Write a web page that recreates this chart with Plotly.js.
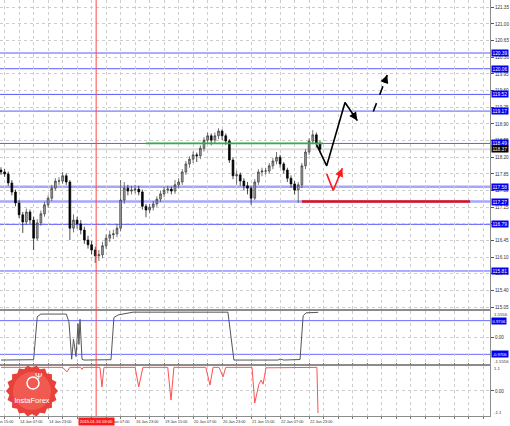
<!DOCTYPE html>
<html><head><meta charset="utf-8">
<script src="https://cdn.plot.ly/plotly-3.0.1.min.js"></script>
<style>html,body{margin:0;padding:0;background:#fff;}#chart{width:510px;height:426px;}</style>
</head><body><div id="chart"></div>
<script>
// ---- hourly bar index (2-hour bars), 0 = 13 Jan 21:00 ----
const barIndex = [0,2,4,6,8,10,12,14,16,18,20,22,24,26,28,30,32,34,36,38,40,42,44,46,48,50,52,54,56,58,60,62,64,66,68,70,72,74,76,78,80,82,84,86,88,90,92,94,96,98,100,102,104,106,108,110,112,114,116,118,120,122,124,126,128,130,132,134,136,138,140,142,144,146,148,150,152,154,156,158,160,162,164,166,168,170,172,174,176];
const openP = [117.93,117.89,117.85,117.66,117.47,117.24,116.99,116.84,117.05,116.88,
116.50,116.82,117.01,117.20,117.34,117.55,117.70,117.70,117.81,117.68,
116.71,116.88,116.80,116.67,116.46,116.36,116.25,116.13,116.15,116.34,
116.50,116.57,116.59,116.71,117.30,117.55,117.49,117.51,117.53,117.47,
117.17,117.09,117.15,117.22,117.32,117.43,117.51,117.53,117.49,117.62,
117.68,117.89,118.06,118.16,118.25,118.23,118.39,118.56,118.65,118.56,
118.65,118.75,118.65,118.54,118.14,117.81,117.83,117.70,117.60,117.55,
117.34,117.68,117.89,117.91,117.91,118.02,118.12,118.20,118.06,117.93,
117.76,117.64,117.51,117.62,118.02,118.31,118.54,118.67,118.48];
const highP = [117.99,117.95,117.90,117.72,117.52,117.30,117.05,117.12,117.10,116.95,
116.90,117.08,117.26,117.40,117.62,117.76,117.78,117.89,117.86,117.72,
117.00,116.95,116.88,116.74,116.55,116.44,116.32,116.25,116.42,116.58,
116.66,116.68,116.80,117.72,117.68,117.62,117.60,117.62,117.60,117.52,
117.22,117.22,117.28,117.38,117.50,117.58,117.60,117.58,117.72,117.76,
117.95,118.12,118.22,118.32,118.30,118.45,118.62,118.72,118.70,118.72,
118.81,118.79,118.70,118.58,118.20,117.92,117.88,117.76,117.68,117.60,
117.74,117.95,117.98,117.98,118.08,118.18,118.31,118.25,118.10,117.98,
117.82,117.70,117.68,118.08,118.37,118.60,118.77,118.72,118.55];
const lowP = [117.83,117.79,117.60,117.40,117.17,116.92,116.61,116.78,116.80,116.25,
116.45,116.76,116.95,117.14,117.28,117.50,117.62,117.64,117.62,116.46,
116.62,116.70,116.58,116.38,116.28,116.16,115.98,116.02,116.08,116.27,
116.42,116.48,116.52,116.64,117.22,117.40,117.42,117.44,117.40,117.10,
116.94,117.02,117.08,117.16,117.26,117.36,117.44,117.42,117.43,117.55,
117.62,117.83,117.98,118.08,118.10,118.16,118.32,118.48,118.45,118.50,
118.58,118.56,118.46,118.08,117.74,117.62,117.60,117.50,117.42,117.20,
117.30,117.62,117.80,117.84,117.85,117.95,118.05,117.98,117.86,117.68,
117.56,117.42,117.24,117.55,117.95,118.25,118.48,118.40,118.30];
const closeP = [117.89,117.85,117.66,117.47,117.24,116.99,116.84,117.05,116.88,116.50,
116.82,117.01,117.20,117.34,117.55,117.70,117.70,117.81,117.68,116.71,
116.88,116.80,116.67,116.46,116.36,116.25,116.13,116.15,116.34,116.50,
116.57,116.59,116.71,117.30,117.55,117.49,117.51,117.53,117.47,117.17,
117.09,117.15,117.22,117.32,117.43,117.51,117.53,117.49,117.62,117.68,
117.89,118.06,118.16,118.25,118.23,118.39,118.56,118.65,118.56,118.65,
118.75,118.65,118.54,118.14,117.81,117.83,117.70,117.60,117.55,117.34,
117.68,117.89,117.91,117.91,118.02,118.12,118.20,118.06,117.93,117.76,
117.64,117.51,117.62,118.02,118.31,118.54,118.67,118.48,118.37];

// ---- axis labels ----
const xLabelIdx = [-6,10,26,58,74,90,106,122,138,154,170];
const xLabelText = ['13 Jan 15:00','14 Jan 07:00','14 Jan 23:00','16 Jan 07:00','16 Jan 23:00','19 Jan 15:00','20 Jan 07:00','20 Jan 23:00','21 Jan 15:00','22 Jan 07:00','22 Jan 23:00'];
const priceTicks = [115.05,115.40,115.75,116.10,116.45,116.80,117.15,117.50,117.85,118.20,118.55,118.90,119.25,119.60,119.95,120.30,120.65,121.00,121.35];
const markerIdx = 52.5;
const markerText = '2015.01.16 03:00';

// ---- levels ----
const blueLevels = [120.39,120.06,119.52,119.17,118.49,116.79,115.81];
const blueThickLevels = [117.58,117.27];
const currentPrice = 118.37;
const greenLevel = 118.49, greenFrom = 80, greenTo = 177.7;
const redLevel = 117.27, redFrom = 166, redTo = 258.8;

// ---- hand drawn forecast ----
const blackPathIdx = [174.2,179.7,189.8,196.6];
const blackPathPrice = [118.46,118.02,119.35,118.97];
const dashPathIdx = [205.4,213.1];
const dashPathPrice = [119.16,119.93];
const redPathIdx = [179.7,183.3,188.3];
const redPathPrice = [117.85,117.50,117.97];

// ---- indicator panels ----
const osc1Idx = [0,18,20,22,36,37.5,39,40,41.4,42.5,43,43.6,44.7,45.8,60.7,62.3,64.6,72.8,125.2,127,128.5,152.8,154,156,165,166.7,168.3,175];
const osc1Val = [-1.30,-1.28,1.20,1.35,1.35,0.90,-1.25,-0.10,-1.10,0.80,-0.40,1.05,-1.25,-1.30,-1.28,1.15,1.30,1.46,1.46,0.00,-1.30,-1.30,-1.24,-1.30,-1.27,1.25,1.42,1.45];
const osc1Levels = [0.9706,-0.9706];
const osc2Idx = [0,34,36.4,38,44,44.7,45.3,54.6,55.7,56.8,74,76,78.3,92,93.8,95.4,113,115.3,117,120.3,122.5,124,138.5,140,142.3,143.5,144.6,146.2,174.3,174.9];
const osc2Val = [1.04,1.04,0.84,1.04,1.04,0.95,1.04,1.04,0.18,1.04,1.04,0.18,1.04,1.04,-0.40,1.04,1.04,0.26,1.04,1.04,0.62,1.04,1.04,-0.53,0.30,0.48,0.30,1.02,1.04,-0.97];

const FONT = 'Liberation Sans, Arial, sans-serif';
const W = 490, H = 416;
const XR = [-0.55, 269.8];
const toPaperX = v => (v - XR[0]) / (XR[1] - XR[0]);

const traces = [
  {type:'candlestick', x:barIndex, open:openP, high:highP, low:lowP, close:closeP,
   xaxis:'x', yaxis:'y', whiskerwidth:0,
   increasing:{line:{color:'#3a3a3a', width:0.7}, fillcolor:'#a0a0a0'},
   decreasing:{line:{color:'#000', width:0.7}, fillcolor:'#000'}, hoverinfo:'skip'},
  {type:'scatter', mode:'lines', x:blackPathIdx, y:blackPathPrice, xaxis:'x', yaxis:'y',
   line:{color:'#000', width:1.6}, hoverinfo:'skip'},
  {type:'scatter', mode:'lines', x:dashPathIdx, y:dashPathPrice, xaxis:'x', yaxis:'y',
   line:{color:'#000', width:1.6, dash:'dash'}, hoverinfo:'skip'},
  {type:'scatter', mode:'lines', x:redPathIdx, y:redPathPrice, xaxis:'x', yaxis:'y',
   line:{color:'#ff1a1a', width:1.6}, hoverinfo:'skip'},
  {type:'scatter', mode:'lines', x:osc1Idx, y:osc1Val, xaxis:'x', yaxis:'y2',
   line:{color:'#555', width:1}, hoverinfo:'skip'},
  {type:'scatter', mode:'lines', x:osc2Idx, y:osc2Val, xaxis:'x', yaxis:'y3',
   line:{color:'#ff5050', width:1}, hoverinfo:'skip'}
];

const shapes = [];
const annotations = [];
shapes.push({type:'line', xref:'paper', x0:0, x1:1, yref:'y', y0:currentPrice, y1:currentPrice, line:{color:'#dcdcdc', width:2}, layer:'below'});
blueLevels.forEach(v => shapes.push({type:'line', xref:'paper', x0:0, x1:1, yref:'y', y0:v, y1:v, line:{color:'#5a5aff', width:1}, layer:'below'}));
blueThickLevels.forEach(v => shapes.push({type:'line', xref:'paper', x0:0, x1:1, yref:'y', y0:v, y1:v, line:{color:'rgba(150,150,255,0.85)', width:2.5}, layer:'below'}));
shapes.push({type:'line', xref:'x', x0:greenFrom, x1:greenTo, yref:'y', y0:greenLevel, y1:greenLevel, line:{color:'#2fb040', width:1.8}});
shapes.push({type:'line', xref:'x', x0:redFrom, x1:redTo, yref:'y', y0:redLevel, y1:redLevel, line:{color:'#e01018', width:2.3}});
osc1Levels.forEach(v => shapes.push({type:'line', xref:'paper', x0:0, x1:1, yref:'y2', y0:v, y1:v, line:{color:'#6a6aff', width:1}, layer:'below'}));
shapes.push({type:'line', xref:'x', x0:markerIdx, x1:markerIdx, yref:'paper', y0:0, y1:1, line:{color:'#ff4a4a', width:1}});

// logo
(function(){
  const cx = 32, cy = 391, rO = 26, rI = 23, n = 18;
  let d = '';
  for (let k = 0; k < 2*n; k++) {
    const a = Math.PI*k/n, r = (k%2) ? rI : rO;
    const X = (cx + r*Math.cos(a))/W, Y = (H - (cy + r*Math.sin(a)))/H;
    d += (k ? 'L' : 'M') + X.toFixed(4) + ',' + Y.toFixed(4);
  }
  shapes.push({type:'path', xref:'paper', yref:'paper', path:d+'Z', fillcolor:'#e8403a', line:{width:0}});
  shapes.push({type:'circle', xref:'paper', yref:'paper', x0:(cx-19)/W, x1:(cx+19)/W, y0:(H-(cy+19))/H, y1:(H-(cy-19))/H, fillcolor:'#f05a50', line:{width:0}});
  shapes.push({type:'circle', xref:'paper', yref:'paper', x0:(cx-5)/W, x1:(cx+7)/W, y0:(H-(cy-2))/H, y1:(H-(cy-14))/H, fillcolor:'rgba(0,0,0,0)', line:{color:'#fff', width:1.5}});
  annotations.push({xref:'paper', yref:'paper', x:(cx+1)/W, y:(H-(cy-8))/H, text:'Ψ', showarrow:false, font:{family:FONT, size:9, color:'#fff'}});
  annotations.push({xref:'paper', yref:'paper', x:cx/W, y:(H-(cy+9))/H, xanchor:'center', yanchor:'middle', width:56, align:'center',
    text:'InstaForex', showarrow:false, font:{family:FONT, size:7.5, color:'#fff'}});
})();

// x labels
xLabelIdx.forEach((v,i) => annotations.push({xref:'paper', yref:'paper', x:toPaperX(v), y:-5/H, xanchor:'left', yanchor:'middle', xshift:-1,
  text:xLabelText[i], showarrow:false, font:{family:FONT, size:3.9, color:'#333'}}));
annotations.push({xref:'paper', yref:'paper', x:toPaperX(markerIdx), y:-5/H, xanchor:'center', yanchor:'middle', text:markerText, showarrow:false,
  bgcolor:'#ff1a1a', borderpad:0.8, font:{family:FONT, size:4.2, color:'#fff'}});

// right side level labels
function sideLabel(val, yref, txt, bg, size){
  annotations.push({xref:'paper', yref:yref, x:1, y:val, xanchor:'left', yanchor:'middle', xshift:1, text:txt, showarrow:false,
    bgcolor:bg, borderpad:0.5, font:{family:FONT, size:size, color:'#fff'}});
}
blueLevels.concat(blueThickLevels).forEach(v => sideLabel(v, 'y', v.toFixed(2), '#0000f0', 4.8));
sideLabel(currentPrice, 'y', currentPrice.toFixed(2), '#000', 4.8);
osc1Levels.forEach(v => sideLabel(v, 'y2', v.toFixed(4), '#0000f0', 4.2));
[[1.5556,'y2','1.5556',-3.5],[-1.5556,'y2','-1.5556',3.5],[1.1,'y3','1.1',-3],[-1.1,'y3','-1.1',3]].forEach(a =>
  annotations.push({xref:'paper', yref:a[1], x:1, y:a[0], xanchor:'left', yanchor:'middle', xshift:2, yshift:a[3], text:a[2], showarrow:false,
    font:{family:FONT, size:4.3, color:'#333'}}));

// arrowheads
function arrowHead(xs, ys, frac, color){
  const n = xs.length, x1 = xs[n-1], y1 = ys[n-1], x0 = xs[n-2], y0 = ys[n-2];
  annotations.push({xref:'x', yref:'y', axref:'x', ayref:'y', x:x1, y:y1, ax:x1-(x1-x0)*frac, ay:y1-(y1-y0)*frac,
    text:'', showarrow:true, arrowhead:2, arrowsize:1.1, arrowwidth:1.5, arrowcolor:color});
}
arrowHead(blackPathIdx, blackPathPrice, 0.5, '#000');
arrowHead(dashPathIdx, dashPathPrice, 0.25, '#000');
arrowHead(redPathIdx, redPathPrice, 0.5, '#ff1a1a');

const axisCommon = {showline:true, mirror:true, linecolor:'#8c8c8c', linewidth:1, zeroline:false, fixedrange:true,
  gridcolor:'#cdcdcd', griddash:'dot', gridwidth:1, side:'right', ticks:'outside', ticklen:3, tickcolor:'#555',
  tickfont:{family:FONT, size:4.6, color:'#333'}};

const layout = {
  width:510, height:426, margin:{l:0, r:20, t:0, b:10},
  paper_bgcolor:'#fff', plot_bgcolor:'#fff', showlegend:false,
  font:{family:FONT, size:5, color:'#333'},
  xaxis:{range:XR, anchor:'y3', tick0:2, dtick:8, showgrid:true, gridcolor:'#cdcdcd', griddash:'dot',
    showticklabels:false, ticks:'outside', ticklen:2, tickcolor:'#777', showline:true, mirror:'all', linecolor:'#8c8c8c',
    linewidth:1, zeroline:false, fixedrange:true, rangeslider:{visible:false}},
  yaxis:Object.assign({}, axisCommon, {domain:[0.2572,1], range:[115.011,121.504], tickvals:priceTicks,
    ticktext:priceTicks.map(v => v.toFixed(2))}),
  yaxis2:Object.assign({}, axisCommon, {domain:[0.1238,0.2536], range:[-1.5556,1.5556], tickvals:[0], ticktext:['0.00']}),
  yaxis3:Object.assign({}, axisCommon, {domain:[0,0.1202], range:[-1.1,1.1], tickvals:[0], ticktext:['0.00']}),
  shapes:shapes, annotations:annotations
};

Plotly.newPlot('chart', traces, layout, {displayModeBar:false, staticPlot:true});
</script>
</body></html>
